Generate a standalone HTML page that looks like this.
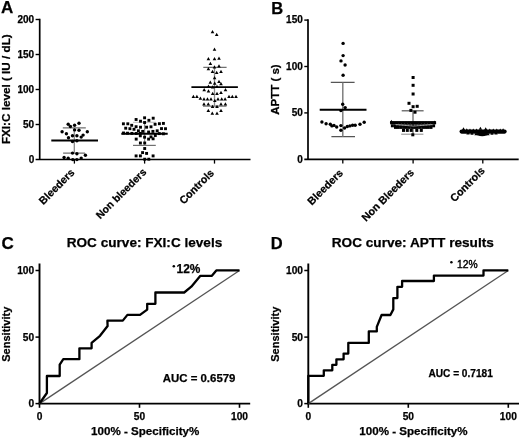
<!DOCTYPE html>
<html><head><meta charset="utf-8"><style>
html,body{margin:0;padding:0;background:#fff;}
svg{display:block;will-change:transform;}
</style></head><body>
<svg width="520" height="438" viewBox="0 0 520 438">
<rect width="520" height="438" fill="#fff"/>
<text x="1.0" y="13.4" font-family="Liberation Sans" font-weight="bold" stroke="#000" stroke-width="0.25" font-size="17">A</text>
<path d="M39.7 18.7V159.5M35.6 159.5H250.5" stroke="#000" stroke-width="1.7" fill="none"/>
<path d="M35.6 19.5H39.7" stroke="#000" stroke-width="1.4"/>
<path d="M35.6 54.5H39.7" stroke="#000" stroke-width="1.4"/>
<path d="M35.6 89.5H39.7" stroke="#000" stroke-width="1.4"/>
<path d="M35.6 124.5H39.7" stroke="#000" stroke-width="1.4"/>
<text x="34.2" y="23.1" font-family="Liberation Sans" font-weight="bold" stroke="#000" stroke-width="0.25" font-size="10" text-anchor="end">200</text>
<text x="34.2" y="58.1" font-family="Liberation Sans" font-weight="bold" stroke="#000" stroke-width="0.25" font-size="10" text-anchor="end">150</text>
<text x="34.2" y="93.1" font-family="Liberation Sans" font-weight="bold" stroke="#000" stroke-width="0.25" font-size="10" text-anchor="end">100</text>
<text x="34.2" y="128.1" font-family="Liberation Sans" font-weight="bold" stroke="#000" stroke-width="0.25" font-size="10" text-anchor="end">50</text>
<text x="34.2" y="163.1" font-family="Liberation Sans" font-weight="bold" stroke="#000" stroke-width="0.25" font-size="10" text-anchor="end">0</text>
<path d="M74.4 159.5V163.6" stroke="#000" stroke-width="1.3"/>
<path d="M144.6 159.5V163.6" stroke="#000" stroke-width="1.3"/>
<path d="M214.5 159.5V163.6" stroke="#000" stroke-width="1.3"/>
<text transform="translate(10.4 89.2) rotate(-90)" font-family="Liberation Sans" font-weight="bold" stroke="#000" stroke-width="0.25" font-size="11.7" text-anchor="middle">FXI:C level ( IU / dL)</text>
<text transform="translate(75.2 173.2) rotate(-45)" font-family="Liberation Sans" font-weight="bold" stroke="#000" stroke-width="0.25" font-size="10.7" text-anchor="end">Bleeders</text>
<text transform="translate(147.0 172.7) rotate(-45)" font-family="Liberation Sans" font-weight="bold" stroke="#000" stroke-width="0.25" font-size="10.45" text-anchor="end">Non bleeders</text>
<text transform="translate(214.7 173.7) rotate(-45)" font-family="Liberation Sans" font-weight="bold" stroke="#000" stroke-width="0.25" font-size="10.7" text-anchor="end">Controls</text>
<g stroke="#707070" stroke-width="1.2">
<path d="M62.8 127.8H85.8M63.1 153.2H85"/>
<path d="M133 145.4H155.8"/>
<path d="M133 122.3H156" stroke="#bbb" stroke-width="1"/>
<path d="M203.3 67.3H226.6M203 106.1H226.5"/>
</g>
<path d="M74.3 127.8V153.2M144.6 122.5V145.4M214.5 67.3V106.1" stroke="#8a8a8a" stroke-width="1.3"/>
<path d="M51.3 140.5H98M121.3 133.8H167.7M191.4 87.1H237.9" stroke="#000" stroke-width="1.9"/>
<circle cx="68.2" cy="124.2" r="1.7"/>
<circle cx="70.4" cy="126.5" r="1.7"/>
<circle cx="74.6" cy="125.3" r="1.7"/>
<circle cx="79.0" cy="123.2" r="1.7"/>
<circle cx="62.1" cy="131.7" r="1.7"/>
<circle cx="66.4" cy="133.8" r="1.7"/>
<circle cx="74.6" cy="129.9" r="1.7"/>
<circle cx="79.0" cy="130.3" r="1.7"/>
<circle cx="87.3" cy="131.7" r="1.7"/>
<circle cx="68.5" cy="137.8" r="1.7"/>
<circle cx="72.5" cy="135.8" r="1.7"/>
<circle cx="76.9" cy="135.8" r="1.7"/>
<circle cx="81.2" cy="137.1" r="1.7"/>
<circle cx="83.1" cy="135.1" r="1.7"/>
<circle cx="72.5" cy="141.5" r="1.7"/>
<circle cx="76.9" cy="140.7" r="1.7"/>
<circle cx="72.5" cy="153.1" r="1.7"/>
<circle cx="76.9" cy="153.8" r="1.7"/>
<circle cx="85.4" cy="155.2" r="1.7"/>
<circle cx="64.1" cy="157.5" r="1.7"/>
<circle cx="68.2" cy="158.3" r="1.7"/>
<circle cx="72.8" cy="159.6" r="1.7"/>
<circle cx="76.9" cy="159.6" r="1.7"/>
<circle cx="81.2" cy="158.1" r="1.7"/>
<rect x="143.15" y="116.35" width="2.9" height="2.9"/>
<rect x="151.75" y="116.75" width="2.9" height="2.9"/>
<rect x="134.65" y="118.05" width="2.9" height="2.9"/>
<rect x="147.45" y="118.85" width="2.9" height="2.9"/>
<rect x="139.05" y="119.75" width="2.9" height="2.9"/>
<rect x="143.15" y="121.05" width="2.9" height="2.9"/>
<rect x="121.95" y="122.35" width="2.9" height="2.9"/>
<rect x="126.35" y="122.35" width="2.9" height="2.9"/>
<rect x="153.65" y="122.85" width="2.9" height="2.9"/>
<rect x="157.95" y="122.25" width="2.9" height="2.9"/>
<rect x="161.95" y="121.95" width="2.9" height="2.9"/>
<rect x="130.25" y="123.85" width="2.9" height="2.9"/>
<rect x="134.65" y="125.25" width="2.9" height="2.9"/>
<rect x="139.05" y="125.75" width="2.9" height="2.9"/>
<rect x="145.15" y="125.75" width="2.9" height="2.9"/>
<rect x="149.55" y="125.35" width="2.9" height="2.9"/>
<rect x="124.25" y="126.75" width="2.9" height="2.9"/>
<rect x="128.45" y="127.25" width="2.9" height="2.9"/>
<rect x="132.55" y="127.85" width="2.9" height="2.9"/>
<rect x="160.05" y="127.15" width="2.9" height="2.9"/>
<rect x="164.05" y="127.25" width="2.9" height="2.9"/>
<rect x="136.95" y="129.35" width="2.9" height="2.9"/>
<rect x="141.25" y="129.95" width="2.9" height="2.9"/>
<rect x="147.15" y="130.55" width="2.9" height="2.9"/>
<rect x="151.45" y="129.95" width="2.9" height="2.9"/>
<rect x="155.75" y="129.35" width="2.9" height="2.9"/>
<rect x="122.05" y="131.55" width="2.9" height="2.9"/>
<rect x="126.05" y="131.75" width="2.9" height="2.9"/>
<rect x="130.45" y="131.95" width="2.9" height="2.9"/>
<rect x="134.75" y="132.05" width="2.9" height="2.9"/>
<rect x="138.85" y="131.95" width="2.9" height="2.9"/>
<rect x="157.85" y="132.15" width="2.9" height="2.9"/>
<rect x="161.95" y="132.35" width="2.9" height="2.9"/>
<rect x="138.85" y="134.35" width="2.9" height="2.9"/>
<rect x="143.15" y="135.75" width="2.9" height="2.9"/>
<rect x="149.55" y="135.45" width="2.9" height="2.9"/>
<rect x="153.85" y="134.05" width="2.9" height="2.9"/>
<rect x="134.75" y="137.65" width="2.9" height="2.9"/>
<rect x="147.15" y="137.65" width="2.9" height="2.9"/>
<rect x="151.65" y="137.35" width="2.9" height="2.9"/>
<rect x="138.95" y="141.55" width="2.9" height="2.9"/>
<rect x="143.25" y="141.55" width="2.9" height="2.9"/>
<rect x="143.25" y="147.05" width="2.9" height="2.9"/>
<rect x="141.15" y="151.15" width="2.9" height="2.9"/>
<rect x="145.15" y="151.95" width="2.9" height="2.9"/>
<rect x="134.65" y="154.45" width="2.9" height="2.9"/>
<rect x="138.95" y="154.45" width="2.9" height="2.9"/>
<rect x="151.65" y="154.45" width="2.9" height="2.9"/>
<rect x="143.25" y="157.75" width="2.9" height="2.9"/>
<rect x="147.35" y="157.75" width="2.9" height="2.9"/>
<path d="M212.50 29.96L214.30 33.20L210.70 33.20Z"/>
<path d="M216.70 32.76L218.50 36.00L214.90 36.00Z"/>
<path d="M214.50 47.56L216.30 50.80L212.70 50.80Z"/>
<path d="M208.40 57.06L210.20 60.30L206.60 60.30Z"/>
<path d="M214.50 57.06L216.30 60.30L212.70 60.30Z"/>
<path d="M219.00 56.46L220.80 59.70L217.20 59.70Z"/>
<path d="M210.40 61.66L212.20 64.90L208.60 64.90Z"/>
<path d="M214.50 65.36L216.30 68.60L212.70 68.60Z"/>
<path d="M219.00 64.36L220.80 67.60L217.20 67.60Z"/>
<path d="M208.40 66.96L210.20 70.20L206.60 70.20Z"/>
<path d="M212.50 69.86L214.30 73.10L210.70 73.10Z"/>
<path d="M216.70 70.76L218.50 74.00L214.90 74.00Z"/>
<path d="M221.00 69.86L222.80 73.10L219.20 73.10Z"/>
<path d="M214.60 76.06L216.40 79.30L212.80 79.30Z"/>
<path d="M210.30 80.46L212.10 83.70L208.50 83.70Z"/>
<path d="M214.70 81.56L216.50 84.80L212.90 84.80Z"/>
<path d="M219.00 79.86L220.80 83.10L217.20 83.10Z"/>
<path d="M221.00 81.96L222.80 85.20L219.20 85.20Z"/>
<path d="M208.50 84.56L210.30 87.80L206.70 87.80Z"/>
<path d="M212.70 85.26L214.50 88.50L210.90 88.50Z"/>
<path d="M217.00 84.86L218.80 88.10L215.20 88.10Z"/>
<path d="M204.20 88.06L206.00 91.30L202.40 91.30Z"/>
<path d="M208.50 89.36L210.30 92.60L206.70 92.60Z"/>
<path d="M212.70 91.66L214.50 94.90L210.90 94.90Z"/>
<path d="M217.00 91.66L218.80 94.90L215.20 94.90Z"/>
<path d="M221.00 90.66L222.80 93.90L219.20 93.90Z"/>
<path d="M225.50 88.06L227.30 91.30L223.70 91.30Z"/>
<path d="M193.40 94.76L195.20 98.00L191.60 98.00Z"/>
<path d="M196.90 94.76L198.70 98.00L195.10 98.00Z"/>
<path d="M200.40 96.46L202.20 99.70L198.60 99.70Z"/>
<path d="M229.00 94.76L230.80 98.00L227.20 98.00Z"/>
<path d="M232.30 94.76L234.10 98.00L230.50 98.00Z"/>
<path d="M236.00 94.76L237.80 98.00L234.20 98.00Z"/>
<path d="M204.00 97.36L205.80 100.60L202.20 100.60Z"/>
<path d="M207.50 97.36L209.30 100.60L205.70 100.60Z"/>
<path d="M211.00 97.36L212.80 100.60L209.20 100.60Z"/>
<path d="M218.00 97.36L219.80 100.60L216.20 100.60Z"/>
<path d="M221.70 97.36L223.50 100.60L219.90 100.60Z"/>
<path d="M225.10 97.36L226.90 100.60L223.30 100.60Z"/>
<path d="M214.80 98.66L216.60 101.90L213.00 101.90Z"/>
<path d="M204.00 102.16L205.80 105.40L202.20 105.40Z"/>
<path d="M208.30 102.16L210.10 105.40L206.50 105.40Z"/>
<path d="M221.00 102.16L222.80 105.40L219.20 105.40Z"/>
<path d="M225.40 102.16L227.20 105.40L223.60 105.40Z"/>
<path d="M212.60 104.76L214.40 108.00L210.80 108.00Z"/>
<path d="M217.00 104.76L218.80 108.00L215.20 108.00Z"/>
<path d="M208.30 108.66L210.10 111.90L206.50 111.90Z"/>
<path d="M221.00 108.66L222.80 111.90L219.20 111.90Z"/>
<path d="M212.30 111.56L214.10 114.80L210.50 114.80Z"/>
<path d="M217.00 111.56L218.80 114.80L215.20 114.80Z"/>
<text x="271.2" y="13.7" font-family="Liberation Sans" font-weight="bold" stroke="#000" stroke-width="0.25" font-size="16.5">B</text>
<path d="M308.0 19.299999999999994V159.3M304.3 159.3H518.7" stroke="#000" stroke-width="1.7" fill="none"/>
<path d="M304.3 20.1H308.0" stroke="#000" stroke-width="1.4"/>
<path d="M304.3 66.5H308.0" stroke="#000" stroke-width="1.4"/>
<path d="M304.3 112.9H308.0" stroke="#000" stroke-width="1.4"/>
<text x="302.8" y="23.1" font-family="Liberation Sans" font-weight="bold" stroke="#000" stroke-width="0.25" font-size="10" text-anchor="end">150</text>
<text x="302.8" y="69.5" font-family="Liberation Sans" font-weight="bold" stroke="#000" stroke-width="0.25" font-size="10" text-anchor="end">100</text>
<text x="302.8" y="115.9" font-family="Liberation Sans" font-weight="bold" stroke="#000" stroke-width="0.25" font-size="10" text-anchor="end">50</text>
<text x="302.8" y="163.1" font-family="Liberation Sans" font-weight="bold" stroke="#000" stroke-width="0.25" font-size="10" text-anchor="end">0</text>
<path d="M342.8 159.3V163.4" stroke="#000" stroke-width="1.3"/>
<path d="M413.1 159.3V163.4" stroke="#000" stroke-width="1.3"/>
<path d="M482.8 159.3V163.4" stroke="#000" stroke-width="1.3"/>
<text transform="translate(279 89.6) rotate(-90)" font-family="Liberation Sans" font-weight="bold" stroke="#000" stroke-width="0.25" font-size="11.5" text-anchor="middle">APTT ( s)</text>
<text transform="translate(343.7 173.7) rotate(-45)" font-family="Liberation Sans" font-weight="bold" stroke="#000" stroke-width="0.25" font-size="10.7" text-anchor="end">Bleeders</text>
<text transform="translate(414.7 173.2) rotate(-45)" font-family="Liberation Sans" font-weight="bold" stroke="#000" stroke-width="0.25" font-size="10.7" text-anchor="end">Non Bleeders</text>
<text transform="translate(485.5 171.39999999999998) rotate(-45)" font-family="Liberation Sans" font-weight="bold" stroke="#000" stroke-width="0.25" font-size="10.7" text-anchor="end">Controls</text>
<g stroke="#555" stroke-width="1.2">
<path d="M330.8 82.4H354.6M331.4 136.7H355"/>
<path d="M401.7 110.8H423.6"/>
</g>
<path d="M401.2 134.2H423.4" stroke="#888" stroke-width="1"/>
<path d="M342.8 82.4V136.7M413 110.8V134.2" stroke="#777" stroke-width="1.4"/>
<path d="M319.7 109.7H366.5M390.2 122.3H435.7" stroke="#000" stroke-width="1.9"/>
<circle cx="343.1" cy="43.4" r="1.7"/>
<circle cx="343.1" cy="55.6" r="1.7"/>
<circle cx="341.0" cy="60.9" r="1.7"/>
<circle cx="345.1" cy="65.0" r="1.7"/>
<circle cx="343.1" cy="75.2" r="1.7"/>
<circle cx="342.7" cy="104.2" r="1.7"/>
<circle cx="345.2" cy="107.6" r="1.7"/>
<circle cx="340.9" cy="110.6" r="1.7"/>
<circle cx="321.9" cy="122.0" r="1.7"/>
<circle cx="326.1" cy="123.8" r="1.7"/>
<circle cx="330.3" cy="124.3" r="1.7"/>
<circle cx="331.9" cy="125.9" r="1.7"/>
<circle cx="334.0" cy="125.4" r="1.7"/>
<circle cx="336.7" cy="127.0" r="1.7"/>
<circle cx="340.9" cy="125.6" r="1.7"/>
<circle cx="340.9" cy="130.2" r="1.7"/>
<circle cx="344.6" cy="128.0" r="1.7"/>
<circle cx="347.3" cy="126.5" r="1.7"/>
<circle cx="349.9" cy="125.9" r="1.7"/>
<circle cx="352.6" cy="125.2" r="1.7"/>
<circle cx="355.2" cy="125.2" r="1.7"/>
<circle cx="360.0" cy="124.3" r="1.7"/>
<circle cx="364.2" cy="122.2" r="1.7"/>
<rect x="411.60" y="76.00" width="3.0" height="3.0"/>
<rect x="411.60" y="83.80" width="3.0" height="3.0"/>
<rect x="411.60" y="92.50" width="3.0" height="3.0"/>
<rect x="407.50" y="101.80" width="3.0" height="3.0"/>
<rect x="411.60" y="105.20" width="3.0" height="3.0"/>
<rect x="415.70" y="104.80" width="3.0" height="3.0"/>
<rect x="409.40" y="108.90" width="3.0" height="3.0"/>
<rect x="413.50" y="110.70" width="3.0" height="3.0"/>
<rect x="411.30" y="133.30" width="3.0" height="3.0"/>
<rect x="390.10" y="121.30" width="3.0" height="3.0"/>
<rect x="392.97" y="121.30" width="3.0" height="3.0"/>
<rect x="395.83" y="121.30" width="3.0" height="3.0"/>
<rect x="398.70" y="121.30" width="3.0" height="3.0"/>
<rect x="401.57" y="121.30" width="3.0" height="3.0"/>
<rect x="404.43" y="121.30" width="3.0" height="3.0"/>
<rect x="407.30" y="121.30" width="3.0" height="3.0"/>
<rect x="410.17" y="121.30" width="3.0" height="3.0"/>
<rect x="413.03" y="121.30" width="3.0" height="3.0"/>
<rect x="415.90" y="121.30" width="3.0" height="3.0"/>
<rect x="418.77" y="121.30" width="3.0" height="3.0"/>
<rect x="421.63" y="121.30" width="3.0" height="3.0"/>
<rect x="424.50" y="121.30" width="3.0" height="3.0"/>
<rect x="427.37" y="121.30" width="3.0" height="3.0"/>
<rect x="430.23" y="121.30" width="3.0" height="3.0"/>
<rect x="433.10" y="121.30" width="3.0" height="3.0"/>
<rect x="390.90" y="124.30" width="3.0" height="3.0"/>
<rect x="393.84" y="124.30" width="3.0" height="3.0"/>
<rect x="396.79" y="124.30" width="3.0" height="3.0"/>
<rect x="399.73" y="124.30" width="3.0" height="3.0"/>
<rect x="402.67" y="124.30" width="3.0" height="3.0"/>
<rect x="405.61" y="124.30" width="3.0" height="3.0"/>
<rect x="408.56" y="124.30" width="3.0" height="3.0"/>
<rect x="411.50" y="124.30" width="3.0" height="3.0"/>
<rect x="414.44" y="124.30" width="3.0" height="3.0"/>
<rect x="417.39" y="124.30" width="3.0" height="3.0"/>
<rect x="420.33" y="124.30" width="3.0" height="3.0"/>
<rect x="423.27" y="124.30" width="3.0" height="3.0"/>
<rect x="426.21" y="124.30" width="3.0" height="3.0"/>
<rect x="429.16" y="124.30" width="3.0" height="3.0"/>
<rect x="432.10" y="124.30" width="3.0" height="3.0"/>
<rect x="394.00" y="125.90" width="3.0" height="3.0"/>
<rect x="396.73" y="125.90" width="3.0" height="3.0"/>
<rect x="399.46" y="125.90" width="3.0" height="3.0"/>
<rect x="402.19" y="125.90" width="3.0" height="3.0"/>
<rect x="404.92" y="125.90" width="3.0" height="3.0"/>
<rect x="407.65" y="125.90" width="3.0" height="3.0"/>
<rect x="410.38" y="125.90" width="3.0" height="3.0"/>
<rect x="413.12" y="125.90" width="3.0" height="3.0"/>
<rect x="415.85" y="125.90" width="3.0" height="3.0"/>
<rect x="418.58" y="125.90" width="3.0" height="3.0"/>
<rect x="421.31" y="125.90" width="3.0" height="3.0"/>
<rect x="424.04" y="125.90" width="3.0" height="3.0"/>
<rect x="426.77" y="125.90" width="3.0" height="3.0"/>
<rect x="429.50" y="125.90" width="3.0" height="3.0"/>
<rect x="402.00" y="128.90" width="3.0" height="3.0"/>
<rect x="405.80" y="128.90" width="3.0" height="3.0"/>
<rect x="409.70" y="128.90" width="3.0" height="3.0"/>
<rect x="415.30" y="128.90" width="3.0" height="3.0"/>
<rect x="419.80" y="128.90" width="3.0" height="3.0"/>
<path d="M395.5 124.6Q413 127.6 432.5 124.6" stroke="#fff" stroke-width="0.7" fill="none" opacity="0.8"/>
<path d="M391.40 119.87L393.00 122.75L389.80 122.75Z"/>
<path d="M434.60 120.47L436.20 123.35L433.00 123.35Z"/>
<path d="M461.6 131.6H504.6" stroke="#000" stroke-width="4.2" stroke-linecap="round"/>
<ellipse cx="482.2" cy="134.2" rx="6" ry="2"/>
<path d="M463.50 127.16L465.20 130.22L461.80 130.22Z"/>
<path d="M466.80 128.36L468.50 131.42L465.10 131.42Z"/>
<path d="M470.00 128.56L471.70 131.62L468.30 131.62Z"/>
<path d="M473.30 128.56L475.00 131.62L471.60 131.62Z"/>
<path d="M476.60 128.56L478.30 131.62L474.90 131.62Z"/>
<path d="M480.40 126.76L482.10 129.82L478.70 129.82Z"/>
<path d="M485.70 127.16L487.40 130.22L484.00 130.22Z"/>
<path d="M489.80 128.46L491.50 131.52L488.10 131.52Z"/>
<path d="M493.30 128.56L495.00 131.62L491.60 131.62Z"/>
<path d="M496.80 128.56L498.50 131.62L495.10 131.62Z"/>
<path d="M500.20 128.56L501.90 131.62L498.50 131.62Z"/>
<path d="M503.10 128.16L504.80 131.22L501.40 131.22Z"/>
<path d="M468.00 131.36L469.70 134.42L466.30 134.42Z"/>
<path d="M472.00 131.76L473.70 134.82L470.30 134.82Z"/>
<path d="M476.00 132.16L477.70 135.22L474.30 135.22Z"/>
<path d="M488.00 132.16L489.70 135.22L486.30 135.22Z"/>
<path d="M492.00 131.76L493.70 134.82L490.30 134.82Z"/>
<path d="M496.00 131.36L497.70 134.42L494.30 134.42Z"/>
<text x="1.5" y="249.3" font-family="Liberation Sans" font-weight="bold" stroke="#000" stroke-width="0.25" font-size="17">C</text>
<text x="144.5" y="247.2" font-family="Liberation Sans" font-weight="bold" stroke="#000" stroke-width="0.25" font-size="13.4" text-anchor="middle" textLength="155.5" lengthAdjust="spacingAndGlyphs">ROC curve: FXI:C levels</text>
<path d="M39.5 263.5V403.6H250.2" stroke="#000" stroke-width="1.9" fill="none"/>
<path d="M35.5 270.5H39.5" stroke="#000" stroke-width="1.5"/>
<text x="34.2" y="274.1" font-family="Liberation Sans" font-weight="bold" stroke="#000" stroke-width="0.25" font-size="10.2" text-anchor="end">100</text>
<path d="M35.5 337.1H39.5" stroke="#000" stroke-width="1.5"/>
<text x="34.2" y="340.7" font-family="Liberation Sans" font-weight="bold" stroke="#000" stroke-width="0.25" font-size="10.2" text-anchor="end">50</text>
<path d="M35.5 403.6H39.5" stroke="#000" stroke-width="1.5"/>
<text x="34.2" y="407.2" font-family="Liberation Sans" font-weight="bold" stroke="#000" stroke-width="0.25" font-size="10.2" text-anchor="end">0</text>
<path d="M39.5 403.6V407.8" stroke="#000" stroke-width="1.6"/>
<text x="39.5" y="419.8" font-family="Liberation Sans" font-weight="bold" stroke="#000" stroke-width="0.25" font-size="10.2" text-anchor="middle">0</text>
<path d="M139.5 403.6V407.8" stroke="#000" stroke-width="1.6"/>
<text x="139.5" y="419.8" font-family="Liberation Sans" font-weight="bold" stroke="#000" stroke-width="0.25" font-size="10.2" text-anchor="middle">50</text>
<path d="M239.5 403.6V407.8" stroke="#000" stroke-width="1.6"/>
<text x="239.5" y="419.8" font-family="Liberation Sans" font-weight="bold" stroke="#000" stroke-width="0.25" font-size="10.2" text-anchor="middle">100</text>
<text x="145.2" y="435.3" font-family="Liberation Sans" font-weight="bold" stroke="#000" stroke-width="0.25" font-size="11.6" text-anchor="middle">100% - Specificity%</text>
<text transform="translate(10.0 334.2) rotate(-90)" font-family="Liberation Sans" font-weight="bold" stroke="#000" stroke-width="0.25" font-size="11" text-anchor="middle">Sensitivity</text>
<path d="M39.5 403.6L239.5 270.5" stroke="#555" stroke-width="1.3"/>
<path d="M39.5 403.5L46.9 393.0L46.9 376.0L59.7 376.0L59.7 364.7L63.3 359.2L79.4 359.2L79.4 348.3L91.6 348.3L91.6 342.8L100.0 335.8L104.5 330.0L107.6 326.0L107.4 320.6L122.8 320.6L127.4 314.9L140.0 314.9L147.2 309.6L147.2 303.8L155.4 303.8L155.4 292.5L184.2 292.5L191.3 286.7L200.4 275.8L211.9 275.8L216.3 270.4L239.5 270.4" stroke="#000" stroke-width="2.3" fill="none" stroke-linejoin="round"/>
<text x="162.7" y="382.3" font-family="Liberation Sans" font-weight="bold" stroke="#000" stroke-width="0.25" font-size="11.45">AUC = 0.6579</text>
<circle cx="173.8" cy="266.3" r="1.25"/><text x="176.6" y="272.9" font-family="Liberation Sans" font-weight="bold" stroke="#000" stroke-width="0.25" font-size="11.9">12%</text>
<text x="270.8" y="249.3" font-family="Liberation Sans" font-weight="bold" stroke="#000" stroke-width="0.25" font-size="16.5">D</text>
<text x="412.8" y="247.2" font-family="Liberation Sans" font-weight="bold" stroke="#000" stroke-width="0.25" font-size="13.4" text-anchor="middle" textLength="162" lengthAdjust="spacingAndGlyphs">ROC curve: APTT results</text>
<path d="M308.3 263.5V403.6H519.0" stroke="#000" stroke-width="1.9" fill="none"/>
<path d="M304.3 270.5H308.3" stroke="#000" stroke-width="1.5"/>
<text x="303.0" y="274.1" font-family="Liberation Sans" font-weight="bold" stroke="#000" stroke-width="0.25" font-size="10.2" text-anchor="end">100</text>
<path d="M304.3 337.1H308.3" stroke="#000" stroke-width="1.5"/>
<text x="303.0" y="340.7" font-family="Liberation Sans" font-weight="bold" stroke="#000" stroke-width="0.25" font-size="10.2" text-anchor="end">50</text>
<path d="M304.3 403.6H308.3" stroke="#000" stroke-width="1.5"/>
<text x="303.0" y="407.2" font-family="Liberation Sans" font-weight="bold" stroke="#000" stroke-width="0.25" font-size="10.2" text-anchor="end">0</text>
<path d="M308.3 403.6V407.8" stroke="#000" stroke-width="1.6"/>
<text x="308.3" y="419.8" font-family="Liberation Sans" font-weight="bold" stroke="#000" stroke-width="0.25" font-size="10.2" text-anchor="middle">0</text>
<path d="M408.3 403.6V407.8" stroke="#000" stroke-width="1.6"/>
<text x="408.3" y="419.8" font-family="Liberation Sans" font-weight="bold" stroke="#000" stroke-width="0.25" font-size="10.2" text-anchor="middle">50</text>
<path d="M508.3 403.6V407.8" stroke="#000" stroke-width="1.6"/>
<text x="508.3" y="419.8" font-family="Liberation Sans" font-weight="bold" stroke="#000" stroke-width="0.25" font-size="10.2" text-anchor="middle">100</text>
<text x="413.45" y="435.3" font-family="Liberation Sans" font-weight="bold" stroke="#000" stroke-width="0.25" font-size="11.6" text-anchor="middle">100% - Specificity%</text>
<text transform="translate(278.8 334.2) rotate(-90)" font-family="Liberation Sans" font-weight="bold" stroke="#000" stroke-width="0.25" font-size="11" text-anchor="middle">Sensitivity</text>
<path d="M308.3 403.6L508.3 270.5" stroke="#555" stroke-width="1.3"/>
<path d="M308.3 403.5L308.3 375.8L323.8 375.8L323.8 370.3L332.3 370.3L332.3 364.8L336.4 364.8L336.4 359.3L343.6 359.3L343.6 353.6L348.3 353.6L348.3 342.9L368.8 342.9L368.8 331.4L376.8 331.4L376.8 326.9L381.6 315.0L390.4 315.0L393.3 309.4L393.3 298.1L397.4 298.1L397.4 286.8L402.1 286.8L402.1 281.0L433.9 281.0L433.9 275.6L483.5 275.6L483.5 270.3L508.3 270.3" stroke="#000" stroke-width="2.3" fill="none" stroke-linejoin="round"/>
<text x="428.4" y="376.6" font-family="Liberation Sans" font-weight="bold" stroke="#000" stroke-width="0.25" font-size="10.15">AUC = 0.7181</text>
<circle cx="451.4" cy="262.3" r="1.25"/><text x="457.0" y="268.1" font-family="Liberation Sans" font-size="10.3" stroke="#000" stroke-width="0.4">12%</text>
</svg>
</body></html>
